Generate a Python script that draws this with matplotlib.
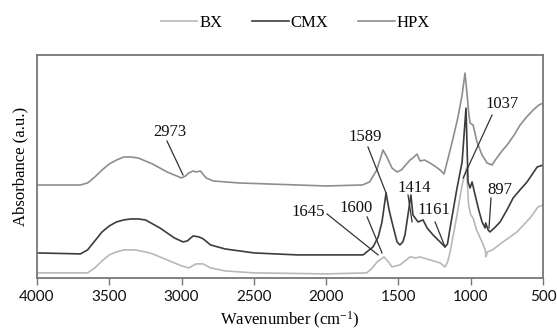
import matplotlib
matplotlib.use("Agg")
import matplotlib.pyplot as plt

# FTIR spectra (absorbance in arbitrary units, stacked)
hpx_wn = [4000, 3700, 3650, 3600, 3550, 3500, 3450, 3400, 3350, 3300, 3250, 3200, 3150, 3100,
          3050, 3000, 2973, 2950, 2920, 2900, 2870, 2830, 2780, 2600, 2200, 2000, 1750, 1700,
          1650, 1607, 1580, 1545, 1510, 1480, 1450, 1420, 1400, 1372, 1350, 1320, 1282, 1250,
          1212, 1185, 1160, 1122, 1090, 1060, 1040, 1025, 1015, 1005, 984, 957, 922, 887, 853,
          830, 790, 749, 700, 659, 620, 569, 530, 500]
hpx_abs = [0.93, 0.93, 0.95, 1.01, 1.08, 1.14, 1.18, 1.21, 1.21, 1.20, 1.17, 1.14, 1.10, 1.06,
           1.03, 1.00, 1.02, 1.05, 1.07, 1.06, 1.07, 1.00, 0.97, 0.95, 0.93, 0.92, 0.93, 0.96,
           1.08, 1.28, 1.21, 1.10, 1.06, 1.08, 1.13, 1.18, 1.20, 1.24, 1.17, 1.18, 1.15, 1.12,
           1.08, 1.04, 1.18, 1.40, 1.60, 1.83, 2.05, 1.83, 1.66, 1.55, 1.53, 1.36, 1.23, 1.15,
           1.13, 1.18, 1.26, 1.33, 1.43, 1.53, 1.60, 1.68, 1.73, 1.75]

cmx_wn = [4000, 3700, 3650, 3600, 3550, 3500, 3450, 3400, 3350, 3300, 3250, 3200, 3150, 3100,
          3050, 2990, 2960, 2920, 2880, 2850, 2800, 2700, 2500, 2200, 1800, 1745, 1676, 1640,
          1614, 1586, 1565, 1545, 1510, 1490, 1470, 1455, 1414, 1400, 1365, 1330, 1302, 1261,
          1212, 1178, 1161, 1143, 1095, 1060, 1033, 1025, 1019, 1005, 991, 970, 945, 922, 901,
          897, 880, 867, 830, 797, 750, 707, 660, 611, 541, 500]
cmx_abs = [0.25, 0.24, 0.28, 0.37, 0.46, 0.52, 0.56, 0.58, 0.59, 0.59, 0.58, 0.54, 0.50, 0.45,
           0.40, 0.36, 0.37, 0.42, 0.41, 0.39, 0.33, 0.29, 0.25, 0.23, 0.23, 0.23, 0.31, 0.41,
           0.56, 0.85, 0.68, 0.56, 0.36, 0.33, 0.36, 0.43, 0.83, 0.63, 0.56, 0.58, 0.50, 0.43,
           0.36, 0.31, 0.34, 0.50, 0.90, 1.16, 1.70, 1.28, 0.96, 0.90, 0.96, 0.83, 0.68, 0.56,
           0.50, 0.55, 0.48, 0.46, 0.51, 0.56, 0.68, 0.80, 0.88, 0.96, 1.11, 1.13]

bx_wn = [4000, 3650, 3600, 3550, 3500, 3450, 3400, 3320, 3250, 3200, 3150, 3100, 3050, 3000,
         2950, 2900, 2850, 2800, 2700, 2500, 2000, 1720, 1680, 1648, 1600, 1570, 1545, 1490,
         1420, 1380, 1351, 1282, 1212, 1178, 1160, 1143, 1095, 1060, 1030, 1015, 1000, 984,
         960, 922, 900, 895, 885, 850, 777, 680, 590, 535, 500]
bx_abs = [0.05, 0.05, 0.10, 0.17, 0.23, 0.26, 0.28, 0.28, 0.26, 0.24, 0.21, 0.18, 0.15, 0.12,
          0.10, 0.14, 0.14, 0.10, 0.07, 0.05, 0.04, 0.05, 0.10, 0.16, 0.21, 0.16, 0.11, 0.13,
          0.21, 0.20, 0.21, 0.18, 0.15, 0.11, 0.16, 0.26, 0.63, 0.93, 1.10, 0.73, 0.63, 0.60,
          0.48, 0.36, 0.28, 0.21, 0.26, 0.28, 0.36, 0.46, 0.60, 0.71, 0.73]

# peak labels: text, text position, line start, line end
peak_labels = ["2973", "1589", "1414", "1161", "1645", "1600", "1037", "897"]
label_pos = [(3080, 1.46), (1731, 1.41), (1392, 0.90), (1255, 0.68), (2126, 0.66), (1793, 0.70),
             (784, 1.74), (797, 0.88)]
line_start = [(3101, 1.37), (1711, 1.31), (1434, 0.83), (1247, 0.56), (1994, 0.64), (1717, 0.61),
              (853, 1.63), (860, 0.80)]
line_end = [(2990, 1.03), (1586, 0.85), (1406, 0.56), (1178, 0.31), (1641, 0.23), (1614, 0.25),
            (1053, 1.00), (874, 0.50)]

plt.rcParams['mathtext.fontset'] = 'custom'
plt.rcParams['mathtext.rm'] = 'Liberation Serif'
plt.rcParams['mathtext.it'] = 'Liberation Serif:italic'

fig = plt.figure(figsize=(5.57, 3.34), dpi=100)
ax = fig.add_axes([0.0664, 0.168, 0.9086, 0.667])

ax.plot(bx_wn, bx_abs, color='#b8b8b8', lw=1.2, label='BX')
ax.plot(cmx_wn, cmx_abs, color='#3c3c3c', lw=1.2, label='CMX')
ax.plot(hpx_wn, hpx_abs, color='#8e8e8e', lw=1.2, label='HPX')

for txt, pos, p0, p1 in zip(peak_labels, label_pos, line_start, line_end):
    ax.text(pos[0], pos[1], txt, ha='center', va='center', fontsize=12,
            family='Liberation Serif', color='#111111')
    ax.plot([p0[0], p1[0]], [p0[1], p1[1]], color='#333333', lw=0.9)

ax.set_xlim(4000, 500)
ax.set_ylim(0, 2.23)
ax.set_xticks([4000, 3500, 3000, 2500, 2000, 1500, 1000, 500])
ax.set_yticks([])
ax.tick_params(axis='x', direction='out', length=5, width=1, color='#777777',
               labelsize=11, pad=4)
for lab in ax.get_xticklabels():
    lab.set_family('Lato')
    lab.set_color('#111111')
for sp in ax.spines.values():
    sp.set_color('#777777')
    sp.set_linewidth(1.3)

ax.set_xlabel('Wavenumber (cm$^{-1}$)', family='Liberation Serif', fontsize=12, labelpad=4)
ax.set_ylabel('Absorbance (a.u.)', family='Liberation Serif', fontsize=12, labelpad=6)

leg = fig.legend(loc='center', bbox_to_anchor=(0.53, 0.931), ncol=3, frameon=False,
                 prop={'family': 'Liberation Serif', 'size': 12}, handlelength=2.2,
                 handletextpad=0.1, columnspacing=1.8)

fig.savefig('out.png', dpi=100)
